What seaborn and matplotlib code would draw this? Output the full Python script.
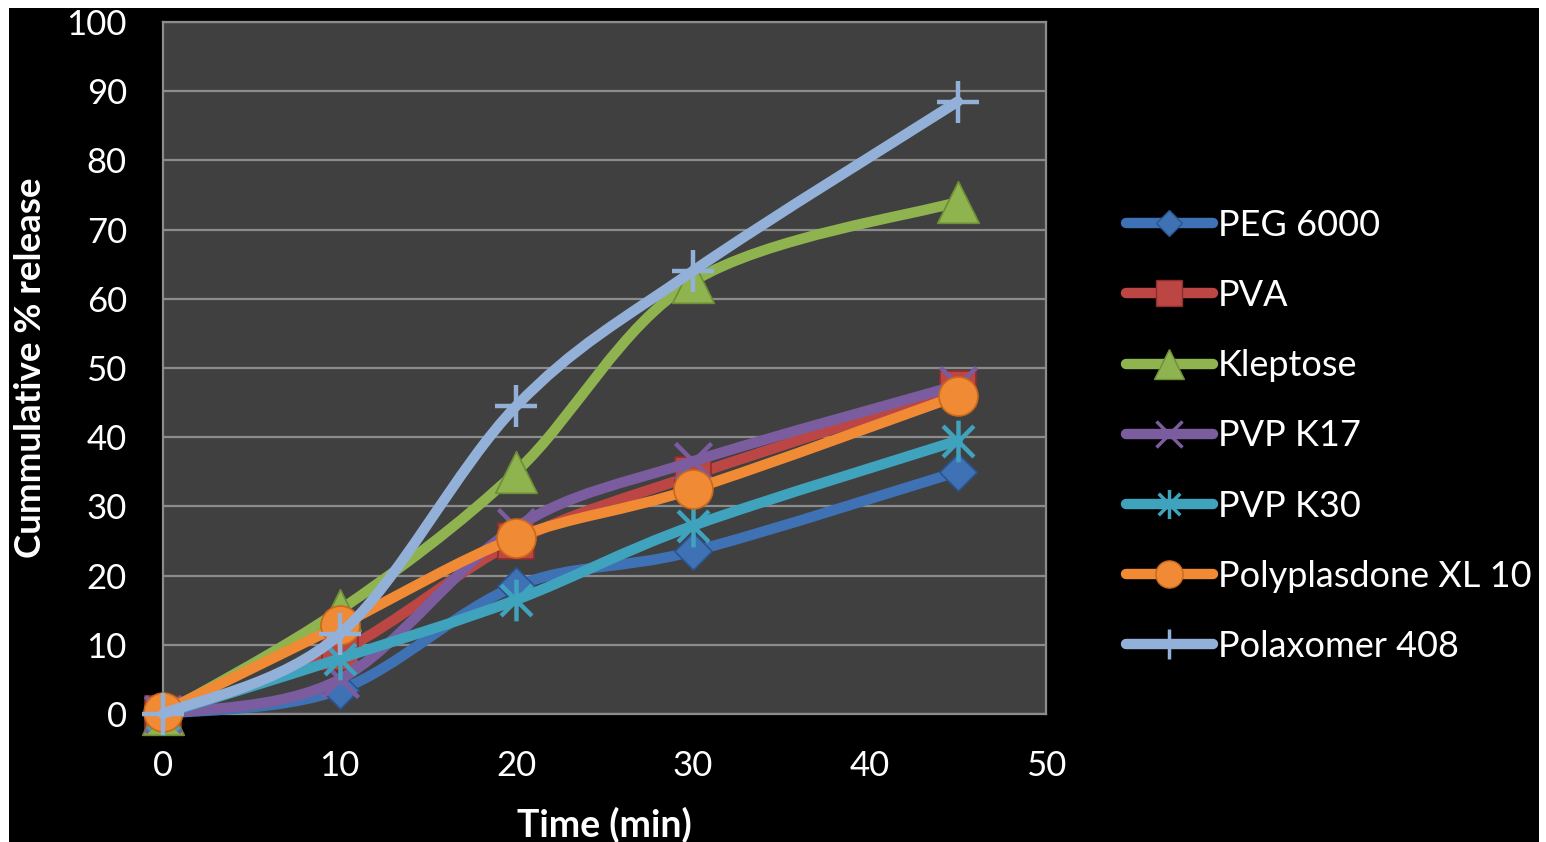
import numpy as np
import matplotlib
matplotlib.use("Agg")
import matplotlib.pyplot as plt
import seaborn as sns
from matplotlib.path import Path
from matplotlib.patches import PathPatch, Rectangle
from matplotlib.lines import Line2D

# Dissolution data: cumulative % release over time
time_min = [0, 10, 20, 30, 45]
peg6000 = [0, 3.5, 18.5, 23.5, 35]
pva = [0, 9, 25, 34.5, 47]
kleptose = [0, 15, 35, 62.5, 74]
pvp_k17 = [0, 5, 27, 36.5, 47.5]
pvp_k30 = [0, 8, 16.5, 27.2, 39.5]
polyplasdone = [0.3, 12.8, 25.5, 32.5, 46]
polaxomer = [0, 11.5, 44.5, 64, 88.5]

series_names = ["PEG 6000", "PVA", "Kleptose", "PVP K17", "PVP K30",
                "Polyplasdone XL 10", "Polaxomer 408"]
series_values = [peg6000, pva, kleptose, pvp_k17, pvp_k30, polyplasdone, polaxomer]

x_ticks = [0, 10, 20, 30, 40, 50]
y_ticks = [0, 10, 20, 30, 40, 50, 60, 70, 80, 90, 100]

# asterisk marker: an "x" with a vertical bar through it
asterisk = Path(
    [(-1, -1), (1, 1), (-1, 1), (1, -1), (0, -1.35), (0, 1.35)],
    [Path.MOVETO, Path.LINETO, Path.MOVETO, Path.LINETO, Path.MOVETO, Path.LINETO],
)

styles = [
    dict(color="#3F72B5", marker="D", size=19, edge="#2A5490"),
    dict(color="#BC4643", marker="s", size=26, edge="#8E2E2C"),
    dict(color="#8FB34F", marker="^", size=30, edge="#6E8E36"),
    dict(color="#7A5C9F", marker="x", size=26, edge="#7A5C9F"),
    dict(color="#3FA3BD", marker=asterisk, size=30, edge="#3FA3BD"),
    dict(color="#F08A35", marker="o", size=28, edge="#C9691C"),
    dict(color="#93B1D8", marker="+", size=30, edge="#93B1D8"),
]

sns.set_theme(style="dark")
plt.rcParams["font.family"] = ["Lato", "DejaVu Sans"]

fig = plt.figure(figsize=(15.46, 8.42), dpi=100, facecolor="white")
# black chart area inside a thin white margin
fig.patches.append(Rectangle((9 / 1546, 0), 1530 / 1546, 834 / 842,
                             transform=fig.transFigure, facecolor="black",
                             edgecolor="none", zorder=-10))

ax = fig.add_axes([163 / 1546, 1 - 714 / 842, 883 / 1546, 692 / 842])
ax.set_facecolor("#404040")


def smooth_path(xs, ys):
    """Cubic Bezier path through the points (Catmull-Rom style control points)."""
    pts = np.column_stack([xs, ys]).astype(float)
    n = len(pts)
    verts = [pts[0]]
    codes = [Path.MOVETO]
    for i in range(n - 1):
        p0 = pts[i - 1] if i > 0 else pts[i]
        p1 = pts[i]
        p2 = pts[i + 1]
        p3 = pts[i + 2] if i + 2 < n else pts[i + 1]
        c1 = p1 + (p2 - p0) / 6.0
        c2 = p2 - (p3 - p1) / 6.0
        verts += [c1, c2, p2]
        codes += [Path.CURVE4] * 3
    return Path(verts, codes)


z = 3
for name, vals, st in zip(series_names, series_values, styles):
    patch = PathPatch(smooth_path(time_min, vals), facecolor="none",
                      edgecolor=st["color"], lw=7.5, capstyle="round",
                      joinstyle="round", zorder=z, clip_on=False)
    ax.add_patch(patch)
    open_marker = st["marker"] in ("x", "+") or isinstance(st["marker"], Path)
    sns.scatterplot(x=time_min, y=vals, ax=ax, marker=st["marker"],
                    s=st["size"] ** 2,
                    color=st["color"],
                    edgecolor=st["edge"] if not open_marker else st["color"],
                    linewidth=1.2 if not open_marker else 3.2,
                    zorder=z + 1, legend=False, clip_on=False)
    z += 2

ax.set_xlim(0, 50)
ax.set_ylim(0, 100)
ax.set_xticks(x_ticks)
ax.set_yticks(y_ticks)
ax.set_xticklabels([str(t) for t in x_ticks])
ax.set_yticklabels([str(t) for t in y_ticks])
ax.tick_params(axis="both", length=0, labelsize=25, colors="white")
ax.tick_params(axis="y", pad=26)
ax.tick_params(axis="x", pad=26)
ax.grid(axis="y", color="#8C8C8C", lw=1.6)
ax.grid(axis="x", visible=False)
ax.set_axisbelow(True)
for sp in ax.spines.values():
    sp.set_visible(True)
    sp.set_color("#8C8C8C")
    sp.set_linewidth(1.6)

ax.set_xlabel("Time (min)", fontsize=27, fontweight="bold", color="white")
ax.set_ylabel("Cummulative % release", fontsize=26.5, fontweight="bold", color="white")
ax.xaxis.set_label_coords(0.5, -(825 - 714) / 692, transform=ax.transAxes)
ax.xaxis.label.set_va("center")
ax.yaxis.set_label_coords(-(163 - 30) / 883, 0.5, transform=ax.transAxes)
ax.yaxis.label.set_va("center")

handles = []
for name, st in zip(series_names, styles):
    open_marker = st["marker"] in ("x", "+") or isinstance(st["marker"], Path)
    handles.append(Line2D([], [], color=st["color"], lw=7.5, solid_capstyle="round",
                          marker=st["marker"], markersize=st["size"] * 0.7,
                          markerfacecolor=st["color"],
                          markeredgecolor=st["edge"] if not open_marker else st["color"],
                          markeredgewidth=1.0 if not open_marker else 2.5))
leg = fig.legend(handles, series_names, loc="center left",
                 bbox_to_anchor=(1126 / 1546, 1 - 436 / 842),
                 frameon=False, fontsize=26, handlelength=2.4, handletextpad=0.15,
                 labelspacing=1.03, borderpad=0, borderaxespad=0)
for t in leg.get_texts():
    t.set_color("white")

fig.savefig("out.png", dpi=100, facecolor="white")
